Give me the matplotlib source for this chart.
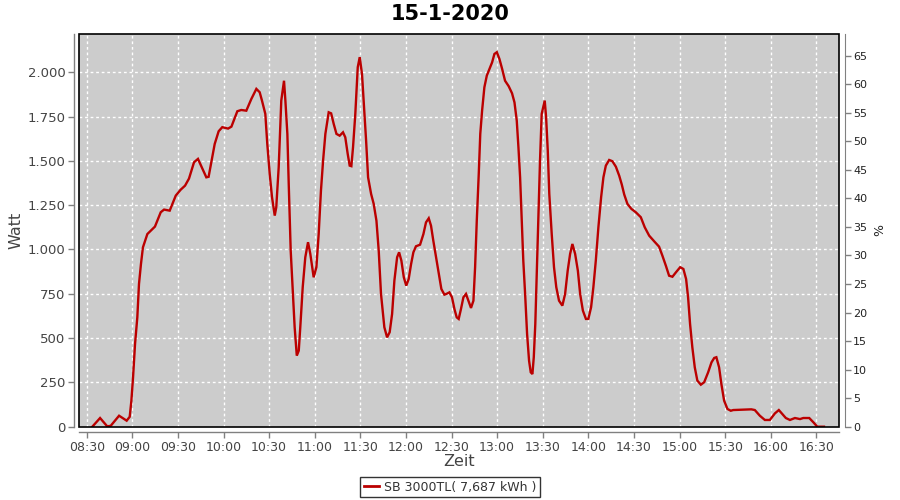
import matplotlib
matplotlib.use("Agg")
import matplotlib.pyplot as plt
from matplotlib.patches import Rectangle
from matplotlib.lines import Line2D

title = "15-1-2020"
series_name = "SB 3000TL( 7,687 kWh )"

# minutes after 08:30
minutes = [3.7, 8.8, 13.5, 15.8, 21.3, 26.3, 28.3, 29.4, 30.5, 31.8, 33.3, 34.4, 35.7, 37, 39.9,
           44.9, 48.7, 50.9, 54.6, 58.6, 61.8, 64.7, 67.3, 70.6, 73.2, 78.7, 80.2, 82.4, 84.2,
           86.8, 89.2, 93, 95.2, 99.1, 101.7, 105, 108.3, 111.6, 113.8, 115.3, 117.5, 118.8,
           120.4, 121.9, 123.7, 124.7, 126.3, 128, 129.8, 130.7, 132, 132.9, 134.2, 135.7,
           136.8, 138.2, 139.5, 140.5, 142.1, 143.8, 145.6, 147.1, 149.3, 151.1, 152.6, 154.1,
           155.5, 157, 159.2, 160.8, 162.5, 164.3, 166.4, 168.6, 170.1, 171.7, 173, 174.1,
           175.2, 176.7, 178.3, 179.6, 181.1, 182.2, 183.8, 185.1, 187.1, 188.8, 190.6, 192.1,
           193.6, 195.8, 197.6, 199.3, 200.9, 202.4, 204.2, 205.5, 207, 208.6, 210.2, 211.8,
           213.4, 214.9, 216.6, 219.3, 221.5, 223.2, 225, 226.5, 228, 229.8, 231.6, 233.3,
           235.3, 236.8, 238.6, 240.3, 241.9, 243.4, 244.7, 246.2, 247.8, 249.5, 251.1, 252.8,
           254.4, 255.5, 256.6, 257.9, 258.9, 260.1, 261.6, 263.2, 264.9, 266.7, 268.2, 269.8,
           271.5, 273.3, 275.2, 277.6, 279.8, 281.4, 282.9, 284, 285.1, 286.2, 287.2, 288.4,
           289.7, 291, 292.1, 293.2, 294.1, 295.1, 296.2, 297.4, 298.2, 299.3, 300.6, 301.3,
           302.2, 303.3, 304.3, 305.9, 307.4, 308.9, 310.7, 312.9, 314.7, 316.4, 318, 319.5,
           321.3, 323.1, 324.6, 326.4, 328.4, 330, 331.8, 333.3, 334.9, 336.6, 338.4, 339.9,
           341.5, 343.7, 345.8, 348.1, 350.3, 352, 353.6, 355.7, 358.3, 361.2, 364.5, 367.1,
           370, 373.3, 376.5, 378.7, 381, 383.1, 385.3, 387.6, 390.4, 392.5, 394.3, 395.6,
           396.9, 398.4, 400, 401.7, 404, 406.2, 408.8, 411, 412.8, 414.2, 416, 417.5, 419.3,
           421.5, 423.7, 425.3, 437.2, 439.5, 442.8, 446.1, 449.4, 452.7, 455.3, 457.7, 459.9,
           462.6, 465.9, 469.2, 471.4, 475.3, 478, 480.6, 485]

watt = [0, 49, 2, 5, 62, 34, 56, 147, 279, 467, 617, 805, 918, 1012, 1087,
        1129, 1210, 1225, 1219, 1304, 1337, 1360, 1400, 1492, 1511, 1407, 1410, 1511, 1595,
        1667, 1690, 1682, 1693, 1780, 1787, 1783, 1849, 1906, 1887, 1840, 1765, 1595,
        1426, 1295, 1191, 1238, 1464, 1840, 1952, 1840, 1652, 1370, 993, 749,
        561, 401, 429, 561, 787, 956, 1041, 975, 843, 900, 1087, 1332,
        1501, 1652, 1774, 1768, 1708, 1652, 1642, 1661, 1633, 1539, 1473, 1470,
        1577, 1765, 2028, 2085, 1990, 1840, 1614, 1407, 1313, 1257, 1162, 993,
        749, 561, 504, 533, 636, 824, 956, 984, 937, 843, 796, 833,
        918, 984, 1018, 1027, 1087, 1153, 1176, 1134, 1050, 956, 862, 777,
        745, 750, 758, 730, 664, 617, 608, 664, 730, 749, 711, 670,
        711, 900, 1162, 1426, 1652, 1783, 1915, 1981, 2018, 2056, 2103, 2113,
        2075, 2018, 1952, 1921, 1881, 1830, 1727, 1577, 1407, 1162, 937, 749,
        523, 372, 307, 297, 392, 580, 900, 1238, 1501, 1765, 1812, 1840,
        1746, 1558, 1313, 1087, 900, 787, 711, 683, 749, 880, 975, 1031,
        975, 880, 749, 655, 608, 608, 674, 787, 937, 1125, 1295, 1407,
        1473, 1505, 1498, 1467, 1416, 1366, 1310, 1257, 1229, 1210, 1182, 1125,
        1078, 1046, 1016, 965, 908, 852, 846, 871, 900, 890, 833, 730,
        580, 448, 335, 260, 237, 251, 307, 363, 388, 392, 335, 241, 147,
        100, 90, 94, 98, 94, 62, 38, 38, 75, 94, 71, 49,
        38, 49, 43, 49, 49, 25, 0, 0]

x_tick_labels = ["08:30", "09:00", "09:30", "10:00", "10:30", "11:00", "11:30", "12:00",
                 "12:30", "13:00", "13:30", "14:00", "14:30", "15:00", "15:30", "16:00", "16:30"]
y_ticks = [0, 250, 500, 750, 1000, 1250, 1500, 1750, 2000]
y_tick_labels = ["0", "250", "500", "750", "1.000", "1.250", "1.500", "1.750", "2.000"]
pct_ticks = list(range(0, 70, 5))

base = 8 * 60 + 30
x = [base + m for m in minutes]
x_ticks = [base + 30 * i for i in range(len(x_tick_labels))]

fig = plt.figure(figsize=(9, 5), dpi=100)
fig.patch.set_facecolor("white")
ax = fig.add_axes([0.0881, 0.1466, 0.9326 - 0.0881, 0.9314 - 0.1466])
ax.set_facecolor("#cccccc")

ax.plot(x, watt, color="#bb0000", lw=1.7, solid_joinstyle="miter", zorder=3)

ax.set_xlim(base - 4.87, base + 495.1)
ax.set_ylim(0, 2214)
ax.set_xticks(x_ticks)
ax.set_xticklabels(x_tick_labels)
ax.set_yticks(y_ticks)
ax.set_yticklabels(y_tick_labels)

ax.grid(True, color="white", linestyle=(0, (2, 2)), lw=1.0)
ax.set_axisbelow(True)

grey = "#808080"
for s in ["top", "right"]:
    ax.spines[s].set_visible(False)
for s in ["left", "bottom"]:
    ax.spines[s].set_position(("outward", 4))
    ax.spines[s].set_color(grey)
    ax.spines[s].set_linewidth(1.0)

ax.tick_params(axis="both", colors=grey, length=4, width=1, labelcolor="#444444", labelsize=9)
ax.tick_params(axis="x", pad=2)
ax.tick_params(axis="y", pad=2, labelsize=9.5)

ax.add_patch(Rectangle((0, 0), 1, 1, transform=ax.transAxes, fill=False,
                       edgecolor="black", lw=1.2, zorder=5, clip_on=False))

ax.set_xlabel("Zeit", fontsize=11.5, color="#444444", labelpad=0)
ax.set_ylabel("Watt", fontsize=11.5, color="#444444", labelpad=3)

ax2 = ax.twinx()
ax2.set_ylim(0, 68.75)
ax2.set_yticks(pct_ticks)
for s in ["top", "left", "bottom"]:
    ax2.spines[s].set_visible(False)
ax2.spines["right"].set_position(("outward", 4))
ax2.spines["right"].set_color(grey)
ax2.tick_params(axis="y", colors=grey, length=4, width=1, labelcolor="#222222", labelsize=8, pad=2)
ax2.set_ylabel("%", fontsize=9, color="#222222", rotation=270, labelpad=11)

fig.text(0.5, 0.972, title, ha="center", va="center", fontsize=15, fontweight="bold",
         color="black")

handle = Line2D([], [], color="#bb0000", lw=2)
leg = fig.legend([handle], [series_name], loc="center", bbox_to_anchor=(0.5, 0.026),
                 frameon=True, fancybox=False, fontsize=9, handlelength=1.2,
                 handletextpad=0.4, borderpad=0.3, edgecolor="black")
leg.get_frame().set_linewidth(1.0)
for t in leg.get_texts():
    t.set_color("#333333")

fig.savefig("out.png", dpi=100)
